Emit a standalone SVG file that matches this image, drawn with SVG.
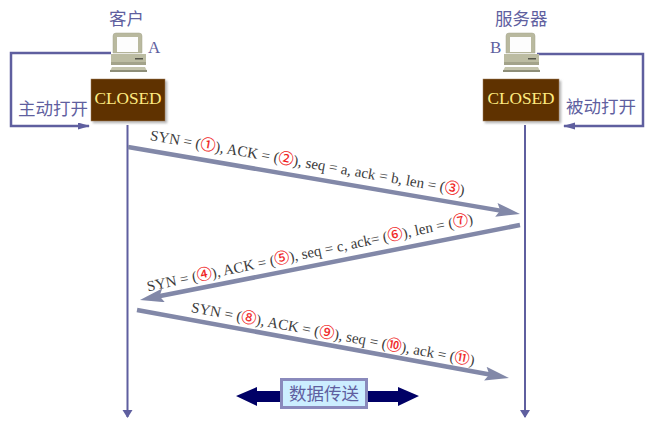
<svg xmlns="http://www.w3.org/2000/svg" width="648" height="427" viewBox="0 0 648 427">
<style>
.lbl{font-family:"Noto Sans CJK SC","Noto Sans",sans-serif;font-size:17.500px;fill:#5f5f9f}
.ltr{font-family:"Liberation Serif",serif;font-size:17px;fill:#5f5f9f}
.msg{font-family:"Liberation Serif",serif;font-size:15px;fill:#3c3c3c}
.n{font-family:"Noto Sans CJK SC",sans-serif;fill:#f01818;font-size:15px;stroke:#f01818;stroke-width:.2}
.closed{font-family:"Liberation Serif",serif;font-size:17.300px;fill:#ffec80;text-anchor:middle}
.life{stroke:#5f5f9f;stroke-width:2;fill:none}
.loop{stroke:#5f5f9f;stroke-width:2.500;fill:none}
.msgl{stroke:#8288a8;stroke-width:4.500;fill:none}
</style>
<defs>
<marker id="lifeh" markerUnits="userSpaceOnUse" markerWidth="8" markerHeight="12" refX="7" refY="5" orient="auto"><path d="M0 0L8 5L0 10Z" fill="#5f5f9f"/></marker>
<marker id="msgh" markerUnits="userSpaceOnUse" markerWidth="24" markerHeight="14" refX="10" refY="7" orient="auto"><path d="M0 0L24 7L0 14L4 7Z" fill="#8288a8"/></marker>
<marker id="looph" markerUnits="userSpaceOnUse" markerWidth="12" markerHeight="8" refX="11" refY="3.500" orient="auto"><path d="M0 0L12 3.500L0 7Z" fill="#5f5f9f"/></marker>
<g id="pc">
<path d="M5 0H28Q31 0 31 3V20H2V3Q2 0 5 0Z" fill="#b9b99f" stroke="#a5a58c" stroke-width=".5"/>
<rect x="6" y="4" width="21" height="15" fill="#fdfdfd"/>
<rect x="0" y="21" width="35" height="11" fill="#bcbca2"/>
<rect x="0" y="29" width="35" height="3" fill="#a3a38a"/>
<rect x="24" y="25" width="8" height="1.500" fill="#55554a"/>
<path d="M1 34H34L36 38H-1Z" fill="#c4c4ac"/>
<rect x="-1" y="37" width="37" height="2" fill="#8e8e78"/>
</g>
<filter id="sh" x="-5%" y="-5%" width="115%" height="115%"><feDropShadow dx="2" dy="2" stdDeviation="1" flood-color="#888" flood-opacity=".6"/></filter>
</defs>

<g id="connectors">
<path class="loop" d="M111 53H11V126H89" marker-end="url(#looph)"/>
<path class="loop" d="M537 54H643V126H564" marker-end="url(#looph)"/>
<path class="life" d="M127.500 125V417" marker-end="url(#lifeh)"/>
<path class="life" d="M525 125V417" marker-end="url(#lifeh)"/>
<path class="msgl" d="M128 147L506.200 211.600" marker-end="url(#msgh)"/>
<path class="msgl" d="M520 225L153.700 297.300" marker-end="url(#msgh)"/>
<path class="msgl" d="M137 310L495.200 375.500" marker-end="url(#msgh)"/>
</g>

<g id="client">
<text class="lbl" x="109" y="25">客户</text>
<use href="#pc" x="111" y="33"/>
<text class="ltr" x="148" y="53">A</text>
</g>
<g id="server">
<text class="lbl" x="495" y="25">服务器</text>
<use href="#pc" x="504" y="33"/>
<text class="ltr" x="490" y="53">B</text>
</g>
<g id="closed-a">
<rect x="91" y="79" width="74" height="42" fill="#5f3000" stroke="#a08060" stroke-width=".5" filter="url(#sh)"/>
<text class="closed" x="128" y="104">CLOSED</text>
</g>
<g id="closed-b">
<rect x="483" y="79" width="76" height="42" fill="#5f3000" stroke="#a08060" stroke-width=".5" filter="url(#sh)"/>
<text class="closed" x="521" y="104">CLOSED</text>
</g>
<g id="open-a"><text class="lbl" x="18" y="115">主动打开</text></g>
<g id="open-b"><text class="lbl" x="566" y="113">被动打开</text></g>

<g id="msg1"><text class="msg" transform="translate(149.500,140) rotate(10)">SYN = (<tspan class="n">①</tspan>), ACK = (<tspan class="n">②</tspan>), seq = a, ack = b, len = (<tspan class="n">③</tspan>)</text></g>
<g id="msg2"><text class="msg" transform="translate(148,291.500) rotate(-11.800)">SYN = (<tspan class="n">④</tspan>), ACK = (<tspan class="n">⑤</tspan>), seq = c, ack= (<tspan class="n">⑥</tspan>), len = (<tspan class="n">⑦</tspan>)</text></g>
<g id="msg3"><text class="msg" transform="translate(190.500,312) rotate(10.700)">SYN = (<tspan class="n">⑧</tspan>), ACK = (<tspan class="n">⑨</tspan>), seq = (<tspan class="n">⑩</tspan>), ack = (<tspan class="n">⑪</tspan>)</text></g>

<g id="transfer">
<path d="M236 396L257 387V391H282V402H257V406Z" fill="#000066"/>
<path d="M419 396L398 387V391H366V402H398V406Z" fill="#000066"/>
<rect x="281.500" y="379.500" width="85" height="28" fill="#cceeff" stroke="#8a8abc" stroke-width="3"/>
<text class="lbl" x="324" y="400" text-anchor="middle">数据传送</text>
</g>
</svg>
